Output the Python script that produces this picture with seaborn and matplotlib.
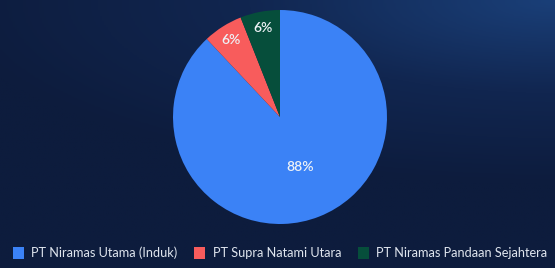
import numpy as np
import matplotlib.pyplot as plt
import seaborn as sns
from matplotlib.colors import LinearSegmentedColormap
from matplotlib.patches import Patch

# data
companies = ["PT Niramas Utama (Induk)", "PT Supra Natami Utara", "PT Niramas Pandaan Sejahtera"]
shares = [88, 6, 6]
colors = ["#3b82f6", "#f85c5c", "#064e3b"]

sns.set_theme(style="white")
plt.rcParams["font.family"] = ["Lato", "DejaVu Sans"]

fig = plt.figure(figsize=(5.55, 2.68), dpi=100)

# background gradient (dark navy, lighter toward top right)
bg = fig.add_axes([0, 0, 1, 1], zorder=0)
xx, yy = np.meshgrid(np.linspace(0, 1, 300), np.linspace(1, 0, 150))
glow = np.clip(1 - np.hypot((xx - 1.0) * 1.0, (yy - 1.0) * 1.6) / 1.1, 0, 1)
cmap = LinearSegmentedColormap.from_list("bg", ["#0d1c3d", "#112650", "#1a3f78"])
bg.imshow(glow, cmap=cmap, aspect="auto", extent=[0, 1, 0, 1], vmin=0, vmax=1)
bg.axis("off")

cx, cy, r = 280, 117, 107
ax = fig.add_axes([(cx - r) / 555, (268 - cy - r) / 268, 2 * r / 555, 2 * r / 268], zorder=1)
wedges, texts, autotexts = ax.pie(
    shares, colors=sns.color_palette(colors), startangle=90, counterclock=False,
    autopct="%1.0f%%", pctdistance=0.5, wedgeprops=dict(linewidth=0),
    textprops=dict(color="#eef2f7", fontsize=10, fontweight="semibold"),
)
# push the small-slice labels outward like the reference
for w, t in zip(wedges, autotexts):
    if w.theta2 - w.theta1 < 40:
        mid = np.deg2rad((w.theta1 + w.theta2) / 2)
        t.set_position((0.85 * np.cos(mid), 0.85 * np.sin(mid)))
ax.set_xlim(-1, 1)
ax.set_ylim(-1, 1)
ax.set_aspect("equal")
ax.axis("off")

handles = [Patch(facecolor=c, edgecolor="none") for c in colors]
fig.legend(handles, companies, loc="center", bbox_to_anchor=(280 / 555, 1 - 253 / 268),
           ncol=3, frameon=False, fontsize=9.2, labelcolor="#dfe5ee",
           handlelength=0.85, handleheight=1.0, handletextpad=0.6, columnspacing=1.3)

fig.savefig("out.png", dpi=100)
